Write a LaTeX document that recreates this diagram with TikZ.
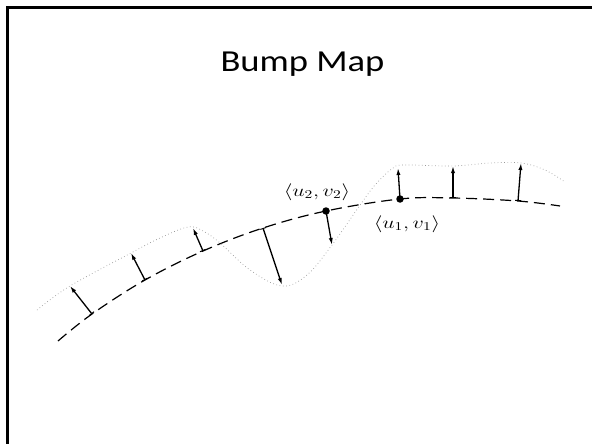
\RequirePackage{fix-cm}
\documentclass[tikz,border=0pt]{standalone}
\usepackage{fontspec}
\newfontfamily\titlefont{Carlito}
\usetikzlibrary{arrows.meta}
\tikzset{
  frame/.style={line width=2.5pt,black},
  surf/.style={line width=1.2pt,dash pattern=on 11pt off 6pt},
  bumped/.style={line width=0.7pt,gray!80,dash pattern=on 0.7pt off 2.6pt},
  normal/.style={line width=1.3pt,-{Latex[length=7pt,width=4.2pt]}},
  normalbar/.style={normal,{Bar[width=6pt,line width=1pt]}-{Latex[length=7pt,width=4.2pt]}},
  dotpt/.style={circle,fill=black,inner sep=0pt,minimum size=7.5pt},
  uvlabel/.style={inner sep=0pt,font=\fontsize{17}{20}\selectfont},
}
\begin{document}
\begin{tikzpicture}[x=1pt,y=-1pt]
\path[use as bounding box] (0,0) rectangle (592,444);
\clip (0,0) rectangle (592,444);
\draw[frame] (7.5,460) |- (610,7.5);
\node[anchor=base,inner sep=0pt] (title) at (302.5,72) {\scalebox{1.2}[1]{\titlefont\fontsize{30.5}{34}\selectfont Bump Map}};
% surface
\draw[surf] plot[smooth,tension=0.6] coordinates {(58,341) (92,314) (145,280) (203,251) (263,228) (326,211) (400,199) (453,198) (518,201) (560,206)};
% bumped surface
\draw[bumped] plot[smooth,tension=0.6] coordinates {(37,310) (70,286) (131,253) (160,238) (188,227) (203,231) (220,243) (250,270) (282,286) (307,275) (332,245) (358,208) (375,185) (393,168) (405,165) (453,166) (490,163) (521,163) (545,170) (565,182)};
% points
\node[dotpt] (p2) at (326,211) {};
\node[dotpt] (p1) at (400,199) {};
\node[uvlabel,anchor=base] (l2) at (317,196) {\scalebox{1.3}[1]{$\langle u_2, v_2\rangle$}};
\node[uvlabel,anchor=base] (l1) at (407,228) {\scalebox{1.3}[1]{$\langle u_1, v_1\rangle$}};
% normals
\coordinate (b1) at (92,314); \coordinate (t1) at (70,286);
\coordinate (b2) at (145,280); \coordinate (t2) at (131,253);
\coordinate (b3) at (203,251); \coordinate (t3) at (193,228);
\coordinate (b4) at (263,228); \coordinate (t4) at (282,285);
\coordinate (t5) at (332,245);
\coordinate (t6) at (398,168);
\coordinate (b7) at (453,198); \coordinate (t7) at (453,166);
\coordinate (b8) at (518,201); \coordinate (t8) at (521,163);
\draw[normalbar] (b1) -- (t1);
\draw[normalbar] (b2) -- (t2);
\draw[normalbar] (b3) -- (t3);
\draw[normalbar] (b4) -- (t4);
\draw[normal] (p2.center) -- (t5);
\draw[normal] (p1.center) -- (t6);
\draw[normalbar] (b7) -- (t7);
\draw[normalbar] (b8) -- (t8);
\end{tikzpicture}
\end{document}
